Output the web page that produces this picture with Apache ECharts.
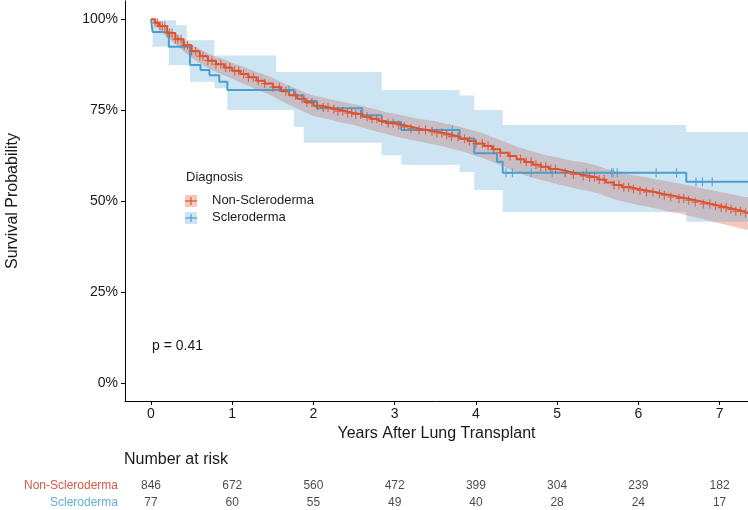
<!DOCTYPE html>
<html>
<head>
<meta charset="utf-8">
<script src="https://cdn.jsdelivr.net/npm/echarts@6/dist/echarts.min.js"></script>
<style>
  html, body { margin: 0; padding: 0; background: #fff; }
  #chart { width: 748px; height: 510px; }
</style>
</head>
<body>
<div id="chart"></div>
<script>
// tick positions and risk table
const xTicks = [0, 1, 2, 3, 4, 5, 6, 7];
const yTicks = [0, 0.25, 0.5, 0.75, 1];
const groups = ['Non-Scleroderma', 'Scleroderma'];
const riskNon = [846, 672, 560, 472, 399, 304, 239, 182];
const riskScl = [77, 60, 55, 49, 40, 28, 24, 17];

// Non-Scleroderma: survival with 95% band
const redT = [0, 0.05, 0.1, 0.2, 0.3, 0.4, 0.5, 0.6, 0.7, 0.8, 0.9, 1.0, 1.1, 1.2, 1.3, 1.4, 1.5, 1.6, 1.7, 1.8, 1.9,
  2.0, 2.1, 2.2, 2.3, 2.4, 2.5, 2.6, 2.7, 2.8, 2.9, 3.0, 3.1, 3.2, 3.3, 3.4, 3.5, 3.6, 3.7, 3.8, 3.9,
  4.0, 4.1, 4.2, 4.3, 4.4, 4.5, 4.6, 4.7, 4.8, 4.9, 5.0, 5.1, 5.2, 5.3, 5.4, 5.5, 5.6, 5.7, 5.8, 5.9,
  6.0, 6.1, 6.2, 6.3, 6.4, 6.5, 6.6, 6.7, 6.8, 6.9, 7.0, 7.1, 7.2, 7.3, 7.35];
const redS = [1.000, 0.990, 0.981, 0.962, 0.945, 0.928, 0.912, 0.898, 0.886, 0.876, 0.867, 0.858, 0.849, 0.840, 0.831, 0.823, 0.813, 0.802, 0.791, 0.781, 0.771,
  0.762, 0.757, 0.752, 0.747, 0.742, 0.738, 0.732, 0.726, 0.720, 0.714, 0.709, 0.704, 0.699, 0.695, 0.691, 0.687, 0.682, 0.677, 0.671, 0.665,
  0.658, 0.651, 0.642, 0.633, 0.624, 0.615, 0.607, 0.600, 0.594, 0.588, 0.583, 0.578, 0.573, 0.569, 0.565, 0.559, 0.551, 0.544, 0.538, 0.533,
  0.529, 0.525, 0.520, 0.516, 0.511, 0.507, 0.502, 0.497, 0.492, 0.487, 0.482, 0.477, 0.472, 0.467, 0.466];
const redHi = [1.000, 0.996, 0.990, 0.974, 0.959, 0.944, 0.930, 0.917, 0.906, 0.897, 0.889, 0.880, 0.872, 0.864, 0.855, 0.848, 0.838, 0.828, 0.817, 0.808, 0.798,
  0.790, 0.785, 0.780, 0.776, 0.771, 0.767, 0.762, 0.756, 0.750, 0.744, 0.740, 0.735, 0.730, 0.726, 0.723, 0.719, 0.714, 0.710, 0.704, 0.698,
  0.692, 0.685, 0.676, 0.668, 0.659, 0.650, 0.643, 0.636, 0.630, 0.624, 0.620, 0.615, 0.610, 0.607, 0.603, 0.597, 0.589, 0.583, 0.577, 0.572,
  0.569, 0.565, 0.560, 0.557, 0.552, 0.548, 0.544, 0.539, 0.534, 0.530, 0.525, 0.521, 0.516, 0.512, 0.511];
const redLo = [1.000, 0.984, 0.972, 0.950, 0.931, 0.912, 0.894, 0.879, 0.866, 0.855, 0.845, 0.836, 0.826, 0.816, 0.807, 0.798, 0.788, 0.776, 0.765, 0.754, 0.744,
  0.734, 0.729, 0.724, 0.718, 0.713, 0.709, 0.702, 0.696, 0.690, 0.684, 0.678, 0.673, 0.668, 0.664, 0.659, 0.655, 0.650, 0.644, 0.638, 0.632,
  0.624, 0.617, 0.608, 0.598, 0.589, 0.580, 0.571, 0.564, 0.558, 0.552, 0.546, 0.541, 0.536, 0.531, 0.527, 0.521, 0.513, 0.505, 0.499, 0.494,
  0.489, 0.485, 0.480, 0.475, 0.470, 0.466, 0.460, 0.455, 0.450, 0.444, 0.439, 0.433, 0.428, 0.422, 0.421];
const redCens = [0.05, 0.08, 0.11, 0.14, 0.17, 0.2, 0.23, 0.26, 0.3, 0.33, 0.37, 0.41, 0.45, 0.5, 0.55, 0.6, 0.64, 0.7, 0.75, 0.8,
  0.86, 0.92, 0.97, 1.03, 1.08, 1.14, 1.2, 1.26, 1.32, 1.4, 1.5, 1.58, 1.66, 1.78, 1.86, 1.92, 1.98, 2.05, 2.12, 2.18,
  2.25, 2.3, 2.36, 2.42, 2.47, 2.52, 2.58, 2.66, 2.72, 2.78, 2.84, 2.92, 2.98, 3.05, 3.12, 3.2, 3.3, 3.38, 3.46, 3.52,
  3.58, 3.64, 3.7, 3.78, 3.86, 3.92, 4.0, 4.08, 4.15, 4.22, 4.3, 4.42, 4.55, 4.62, 4.68, 4.74, 4.8, 4.86, 4.92, 4.98,
  5.1, 5.2, 5.32, 5.4, 5.46, 5.52, 5.58, 5.7, 5.76, 5.82, 5.88, 5.94, 6.02, 6.1, 6.18, 6.26, 6.32, 6.4, 6.5, 6.56,
  6.62, 6.7, 6.8, 6.88, 6.95, 7.02, 7.08, 7.14, 7.2, 7.26, 7.32];

// Scleroderma: survival with 95% band
const sclT  = [0, 0.02, 0.22, 0.31, 0.44, 0.48, 0.61, 0.72, 0.78, 0.84, 0.94, 1.54, 1.76, 1.88, 2.04, 2.60, 2.84, 3.08, 3.80, 3.98, 4.26, 4.33, 6.59, 7.35];
const sclS  = [1.0, 0.965, 0.924, 0.924, 0.924, 0.874, 0.860, 0.846, 0.846, 0.828, 0.805, 0.805, 0.790, 0.775, 0.755, 0.736, 0.717, 0.695, 0.672, 0.631, 0.608, 0.578, 0.553, 0.553];
const sclHi = [1.0, 0.997, 0.997, 0.983, 0.942, 0.942, 0.942, 0.942, 0.900, 0.900, 0.900, 0.855, 0.855, 0.855, 0.855, 0.855, 0.805, 0.805, 0.790, 0.750, 0.750, 0.709, 0.690, 0.690];
const sclLo = [1.0, 0.924, 0.874, 0.874, 0.874, 0.828, 0.828, 0.828, 0.810, 0.810, 0.750, 0.750, 0.704, 0.660, 0.660, 0.660, 0.626, 0.600, 0.580, 0.530, 0.530, 0.470, 0.443, 0.443];
const sclCens = [1.70, 3.71, 4.37, 4.45, 4.68, 4.94, 5.36, 5.67, 5.69, 5.74, 6.22, 6.47, 6.71, 6.79, 6.91];

const FONT = '"Liberation Sans", Arial, Helvetica, sans-serif';
const RED = '#E0512F';
const BLUE = '#4C9ED0';
const TXT = '#1a1a1a';
const PLUS = 'path://M2.9,0H4.1V9H2.9Z M0,3.9H7V5.1H0Z';

function pairs(T, V) { return T.map((t, i) => [t, V[i]]); }
function survAt(T, S, t) {
  let k = 0;
  for (let i = 0; i < T.length; i++) if (T[i] <= t) k = i;
  return S[k];
}

// confidence band as one polygon, placed with api.coord
function bandSeries(T, hi, lo, color, z, stepped) {
  return {
    type: 'custom', z: z, silent: true, clip: true,
    data: T.map((t, i) => [t, lo[i], hi[i]]),
    encode: { x: 0, y: [1, 2] },
    renderItem: (params, api) => {
      if (params.dataIndex !== 0) return null;
      const n = T.length, pts = [];
      for (let i = 0; i < n; i++) {
        pts.push(api.coord([T[i], hi[i]]));
        if (stepped && i < n - 1) pts.push(api.coord([T[i + 1], hi[i]]));
      }
      for (let i = n - 1; i >= 0; i--) {
        if (stepped && i < n - 1) pts.push(api.coord([T[i + 1], lo[i]]));
        pts.push(api.coord([T[i], lo[i]]));
      }
      return { type: 'polygon', shape: { points: pts }, style: { fill: color } };
    }
  };
}

const chart = echarts.init(document.getElementById('chart'));

chart.setOption({
  animation: false,
  textStyle: { fontFamily: FONT },
  grid: [
    { left: 125, right: 0, top: 1, height: 400, outerBoundsMode: 'none', containLabel: false },
    { left: 125, right: 0, top: 477.5, height: 34, outerBoundsMode: 'none', containLabel: false }
  ],
  xAxis: [{
    type: 'value', min: -0.32, max: 7.35,
    axisLine: { show: true, onZero: false, lineStyle: { color: '#000', width: 1 } },
    axisTick: { show: true, length: 4, customValues: xTicks, lineStyle: { color: '#000' } },
    axisLabel: { customValues: xTicks, fontSize: 14, color: TXT, margin: 6, fontFamily: FONT },
    splitLine: { show: false },
    name: 'Years After Lung Transplant', nameLocation: 'middle', nameGap: 24,
    nameTextStyle: { fontSize: 16, color: TXT, fontFamily: FONT }
  }, {
    gridIndex: 1, type: 'value', min: -0.32, max: 7.35, show: false
  }],
  yAxis: [{
    type: 'value', min: -0.05, max: 1.05,
    axisLine: { show: true, onZero: false, lineStyle: { color: '#000', width: 1 } },
    axisTick: { show: true, length: 4, customValues: yTicks, lineStyle: { color: '#000' } },
    axisLabel: { customValues: yTicks, fontSize: 14, color: TXT, margin: 7, fontFamily: FONT,
      formatter: v => Math.round(v * 100) + '%' },
    splitLine: { show: false },
    name: 'Survival Probability', nameLocation: 'middle', nameGap: 104, nameRotate: 90,
    nameTextStyle: { fontSize: 16, color: TXT, fontFamily: FONT }
  }, {
    gridIndex: 1, type: 'category', data: groups, inverse: true,
    axisLine: { show: false }, axisTick: { show: false },
    axisLabel: { fontSize: 12, margin: 7, fontFamily: FONT,
      color: v => (v === groups[0] ? '#D65A42' : '#62AEDA') }
  }],
  series: [
    bandSeries(redT, redHi, redLo, 'rgba(222,72,38,0.3)', 1, false),
    bandSeries(sclT, sclHi, sclLo, 'rgba(88,165,212,0.3)', 2, true),
    { name: 'Scleroderma', type: 'line', step: 'end', data: pairs(sclT, sclS), symbol: 'none',
      lineStyle: { color: BLUE, width: 2 }, z: 3 },
    { name: 'Non-Scleroderma', type: 'line', step: 'end', data: pairs(redT, redS), symbol: 'none',
      lineStyle: { color: RED, width: 2 }, z: 4 },
    { name: 'scl-cens', type: 'scatter', data: sclCens.map(t => [t, survAt(sclT, sclS, t)]),
      symbol: PLUS, symbolSize: [7, 9], itemStyle: { color: BLUE }, z: 5 },
    { name: 'red-cens', type: 'scatter', data: redCens.map(t => [t, survAt(redT, redS, t)]),
      symbol: PLUS, symbolSize: [7, 9], itemStyle: { color: RED }, z: 6 },
    { name: 'risk-non', type: 'scatter', xAxisIndex: 1, yAxisIndex: 1,
      data: xTicks.map((t, i) => [t, groups[0], riskNon[i]]),
      symbolSize: 1, itemStyle: { color: 'rgba(0,0,0,0)' },
      label: { show: true, position: 'inside', formatter: p => p.value[2], fontSize: 12, color: TXT, fontFamily: FONT } },
    { name: 'risk-scl', type: 'scatter', xAxisIndex: 1, yAxisIndex: 1,
      data: xTicks.map((t, i) => [t, groups[1], riskScl[i]]),
      symbolSize: 1, itemStyle: { color: 'rgba(0,0,0,0)' },
      label: { show: true, position: 'inside', formatter: p => p.value[2], fontSize: 12, color: TXT, fontFamily: FONT } }
  ],
  graphic: [
    { type: 'text', left: 124, top: 452, style: { text: 'Number at risk', fontSize: 16, fill: TXT, fontFamily: FONT } },
    { type: 'text', left: 152, top: 339, style: { text: 'p = 0.41', fontSize: 14, fill: TXT, fontFamily: FONT } },
    { type: 'text', left: 186, top: 171, style: { text: 'Diagnosis', fontSize: 13, fill: TXT, fontFamily: FONT } },
    { type: 'rect', shape: { x: 185, y: 195, width: 12, height: 12 }, style: { fill: 'rgba(222,72,38,0.3)' } },
    { type: 'line', shape: { x1: 185, y1: 201, x2: 197, y2: 201 }, style: { stroke: RED, lineWidth: 1.2 } },
    { type: 'line', shape: { x1: 191, y1: 197, x2: 191, y2: 205 }, style: { stroke: RED, lineWidth: 1.2 } },
    { type: 'rect', shape: { x: 185, y: 212, width: 12, height: 12 }, style: { fill: 'rgba(88,165,212,0.3)' } },
    { type: 'line', shape: { x1: 185, y1: 218, x2: 197, y2: 218 }, style: { stroke: BLUE, lineWidth: 1.2 } },
    { type: 'line', shape: { x1: 191, y1: 214, x2: 191, y2: 222 }, style: { stroke: BLUE, lineWidth: 1.2 } },
    { type: 'text', left: 212, top: 194, style: { text: 'Non-Scleroderma', fontSize: 13, fill: TXT, fontFamily: FONT } },
    { type: 'text', left: 212, top: 211, style: { text: 'Scleroderma', fontSize: 13, fill: TXT, fontFamily: FONT } }
  ]
});
</script>
</body>
</html>
